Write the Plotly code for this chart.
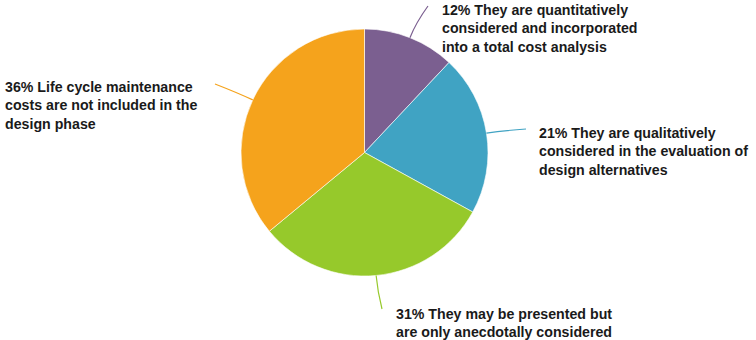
import math
import plotly.graph_objects as go

# Survey responses: how life cycle maintenance costs are treated during design
categories = [
    "They are quantitatively considered and incorporated into a total cost analysis",
    "They are qualitatively considered in the evaluation of design alternatives",
    "They may be presented but are only anecdotally considered",
    "Life cycle maintenance costs are not included in the design phase",
]
shares = [12, 21, 31, 36]
label_lines = [
    ["They are quantitatively", "considered and incorporated", "into a total cost analysis"],
    ["They are qualitatively", "considered in the evaluation of", "design alternatives"],
    ["They may be presented but", "are only anecdotally considered"],
    ["Life cycle maintenance", "costs are not included in the", "design phase"],
]
colors = ["#7B5F90", "#40A3C3", "#96C92B", "#F5A31C"]

W, H = 756, 340
CX, CY, R = 364.5, 152.5, 123.5

# label placement (pixel space): leader-line end point, text anchor x, text block centre y
label_pos = [
    dict(end=(428, 6), tx=440, ty=28.5),
    dict(end=(526, 129), tx=537, ty=151.5),
    dict(end=(382, 309), tx=394, ty=322.5),
    dict(end=(215, 84), tx=3, ty=105),
]


def px(x):
    return x / W


def py(y):
    return 1 - y / H


fig = go.Figure(
    go.Pie(
        labels=categories,
        values=shares,
        sort=False,
        direction="clockwise",
        rotation=0,
        marker=dict(colors=colors, line=dict(color="white", width=0.6)),
        textinfo="none",
        hoverinfo="label+percent",
        domain=dict(x=[px(CX - R), px(CX + R)], y=[py(CY + R), py(CY - R)]),
        showlegend=False,
    )
)

shapes = []
annotations = []
total = sum(shares)
cum = 0
for i, v in enumerate(shares):
    mid = (cum + v / 2) / total * 2 * math.pi
    cum += v
    dx, dy = math.sin(mid), -math.cos(mid)
    sx, sy = CX + R * dx, CY + R * dy
    ex, ey = label_pos[i]["end"]
    # control point pushed out radially so the leader bends gently
    cx, cy = sx + 16 * dx, sy + 16 * dy
    shapes.append(
        dict(
            type="path",
            xref="paper",
            yref="paper",
            path=f"M {px(sx)} {py(sy)} Q {px(cx)} {py(cy)} {px(ex)} {py(ey)}",
            line=dict(color=colors[i], width=1.2),
        )
    )
    text = f"{v}% " + "<br>".join(label_lines[i])
    annotations.append(
        dict(
            x=px(label_pos[i]["tx"]),
            y=py(label_pos[i]["ty"]),
            xref="paper",
            yref="paper",
            xanchor="left",
            yanchor="middle",
            align="left",
            showarrow=False,
            text=f"<b>{text}</b>",
            font=dict(family="Liberation Sans, Arial, sans-serif", size=14.2, color="#1a1a1a"),
        )
    )

fig.update_layout(
    width=W,
    height=H,
    margin=dict(l=0, r=0, t=0, b=0),
    paper_bgcolor="white",
    plot_bgcolor="white",
    shapes=shapes,
    annotations=annotations,
)

fig.write_html("out.html")
